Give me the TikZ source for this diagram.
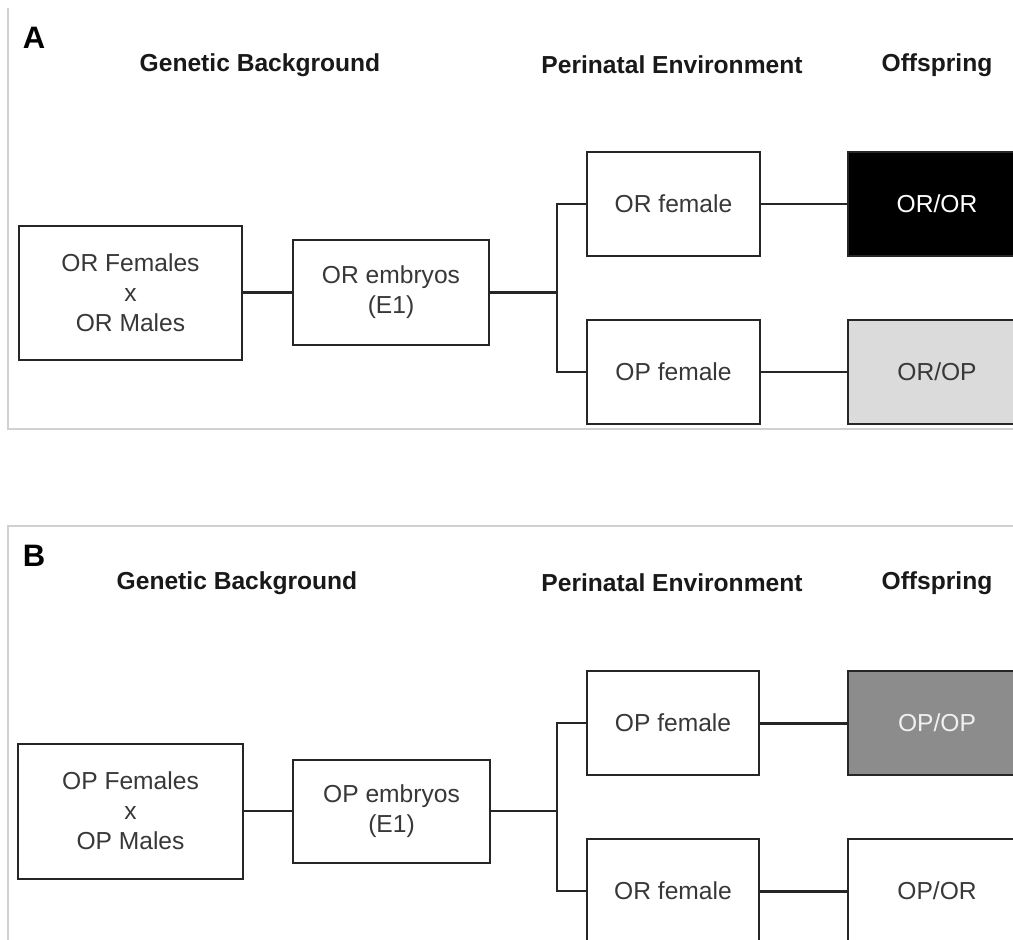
\documentclass[tikz,border=0pt]{standalone}
\usepackage{fontspec}
\setmainfont{Liberation Sans}

\begin{document}
\begin{tikzpicture}[x=1pt, y=-1pt,
    box/.style={draw=black!85, line width=2pt, text=black!78, align=center, inner sep=0pt,
        font=\fontsize{24.6}{30}\selectfont},
    offbox/.style={box, anchor=west, minimum width=300, minimum height=104},
    head/.style={text=black!90, font=\bfseries\fontsize{24.6}{29}\selectfont},
    tag/.style={font=\bfseries\fontsize{31}{36}\selectfont},
    link/.style={draw=black!85, line width=2pt},
    frame/.style={draw=black!18, line width=1.5pt}]
    \useasboundingbox (0,0) rectangle (1013,940);
    \fill[white] (0,0) rectangle (1013,940);
    \clip (0,0) rectangle (1013,940);

    \draw[frame] (8,8) -- (8,429) -- (1013,429);
    \node[tag] (tagA) at (34,38) {A};
    \node[head] (genA) at (260,65) {Genetic Background};
    \node[head] (periA) at (672,65) {Perinatal Environment};
    \node[head] (offA) at (937,65) {Offspring};
    \node[box, minimum width=223, minimum height=134] (crossA) at (130.5,292.5) {OR Females\\x\\OR Males};
    \node[box, minimum width=196, minimum height=105] (embA) at (391,292.5) {OR embryos\\(E1)};
    \coordinate (forkA) at (557,292.5);
    \node[box, minimum width=173, minimum height=104] (femORA) at (673.5,204) {OR female};
    \node[box, minimum width=173, minimum height=104] (femOPA) at (673.5,372) {OP female};
    \node[offbox, fill=black, text=white] (offORA) at (847,204) {\hspace*{-122pt}OR/OR};
    \node[offbox, fill=black!14] (offOPA) at (847,372) {\hspace*{-122pt}OR/OP};
    \draw[link, line width=3pt] (crossA) -- (embA);
    \draw[link, line width=3pt] (embA) -- (forkA);
    \draw[link] (femORA.west) -| (forkA) |- (femOPA.west);
    \draw[link, line width=1.5pt] (femORA) -- (offORA);
    \draw[link, line width=1.5pt] (femOPA) -- (offOPA);

    \draw[frame] (1013,526) -- (8,526) -- (8,940);
    \node[tag] (tagB) at (34,556) {B};
    \node[head] (genB) at (237,583) {Genetic Background};
    \node[head] (periB) at (672,583) {Perinatal Environment};
    \node[head] (offB) at (937,583) {Offspring};
    \node[box, minimum width=225, minimum height=135] (crossB) at (130.5,811) {OP Females\\x\\OP Males};
    \node[box, minimum width=197, minimum height=103] (embB) at (391.5,811) {OP embryos\\(E1)};
    \coordinate (forkB) at (557,811);
    \node[box, minimum width=172, minimum height=104] (femOPB) at (673,723) {OP female};
    \node[box, minimum width=172, minimum height=104] (femORB) at (673,891) {OR female};
    \node[offbox, fill=black!45, text=black!6] (offOPB) at (847,723) {\hspace*{-122pt}OP/OP};
    \node[offbox] (offORB) at (847,891) {\hspace*{-122pt}OP/OR};
    \draw[link] (crossB) -- (embB);
    \draw[link] (embB) -- (forkB);
    \draw[link] (femOPB.west) -| (forkB) |- (femORB.west);
    \draw[link, line width=3pt] (femOPB) -- (offOPB);
    \draw[link, line width=3pt] (femORB) -- (offORB);
\end{tikzpicture}
\end{document}
